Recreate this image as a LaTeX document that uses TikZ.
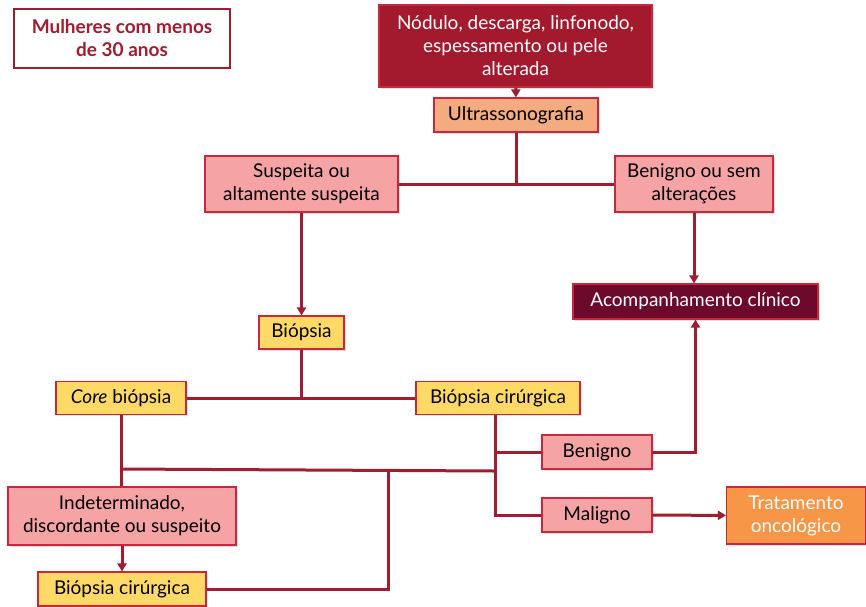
\documentclass[tikz,border=0pt]{standalone}
\usepackage{fontspec}
\setmainfont{Lato}
\usetikzlibrary{arrows.meta, shadows}
\definecolor{linered}{HTML}{A21C30}
\definecolor{edgered}{HTML}{C8283E}
\definecolor{wine}{HTML}{A31A2E}
\definecolor{maroon}{HTML}{6D0A2C}
\definecolor{peach}{HTML}{F5AB80}
\definecolor{rose}{HTML}{F6A3A6}
\definecolor{sun}{HTML}{FFD966}
\definecolor{tang}{HTML}{F79646}

\begin{document}
\begin{tikzpicture}[
  x=1pt, y=-1pt,
  box/.style={draw=edgered, line width=1.1pt, inner sep=2pt,
              align=center, font=\fontsize{19}{23}\selectfont,
              drop shadow={opacity=0.25, shadow xshift=1.5pt, shadow yshift=-1.5pt}},
  sz/.style 2 args={minimum width=#1pt, minimum height=#2pt},
  ar/.style={-{Triangle[width=9pt,length=8pt]}, line width=3pt, linered},
  ln/.style={line width=3pt, linered},
]
  \useasboundingbox (0,0) rectangle (866,606);

  \node[draw=linered, line width=2.2pt, fill=white, sz={216}{59}, align=center,
        font=\fontsize{19}{23}\selectfont\bfseries, text=linered] (title) at (122,38.5)
        {Mulheres com menos\\de 30 anos};

  \node[box, fill=wine, text=white, sz={273}{82}] (top) at (515.5,46)
        {Nódulo, descarga, linfonodo,\\espessamento ou pele\\alterada};
  \node[box, fill=peach, sz={164}{34}] (ultra) at (516,115) {Ultrassonografia};
  \node[box, fill=rose, sz={193}{56}] (susp) at (301.5,184) {Suspeita ou\\altamente suspeita};
  \node[box, fill=rose, sz={158}{56}] (bensem) at (694,184) {Benigno ou sem\\alterações};
  \node[box, fill=maroon, text=white, sz={245}{35}] (acomp) at (695.5,301.5) {Acompanhamento clínico};
  \node[box, fill=sun, sz={85}{33}] (biop) at (301.5,332.5) {Biópsia};
  \node[box, fill=sun, sz={130}{33}] (core) at (121,398) {\textit{Core} biópsia};
  \node[box, fill=sun, sz={164}{33}] (cir) at (498,398) {Biópsia cirúrgica};
  \node[box, fill=rose, sz={110}{34}] (ben) at (597,452) {Benigno};
  \node[box, fill=rose, sz={110}{34}] (mal) at (597,515) {Maligno};
  \node[box, fill=tang, text=white, sz={139}{57}] (trat) at (796,515.5) {Tratamento\\oncológico};
  \node[box, fill=rose, sz={228}{58}] (indet) at (122,516) {Indeterminado,\\discordante ou suspeito};
  \node[box, fill=sun, sz={168}{34}] (cirb) at (122,589) {Biópsia cirúrgica};

  \coordinate (jc) at (121,469);
  \coordinate (jm) at (388,470);
  \coordinate (jr) at (495,471);

  \draw[ar] (top) -- (ultra);
  \draw[ln] (ultra.south) -- (ultra.south |- susp.east);
  \draw[ln] (susp.east) -- (bensem.west);
  \draw[ar] (susp) -- (biop);
  \draw[ar] (bensem.south) -- (bensem.south |- acomp.north);
  \draw[ln] (biop.south) -- (biop.south |- core.east);
  \draw[ln] (core.east) -- (cir.west);
  \draw[ln] (core.south) -- (core.south |- indet.north);
  \draw[ln] (jc) -- (jr);
  \draw[ln] (jm) |- (cirb.east);
  \draw[ln] (jr |- cir.south) |- (mal.west);
  \draw[ln] (jr |- ben.west) -- (ben.west);
  \draw[ar] (ben.east) -| (acomp.south);
  \draw[ar] (mal) -- (trat);
  \draw[ar] (indet) -- (cirb);
\end{tikzpicture}
\end{document}
